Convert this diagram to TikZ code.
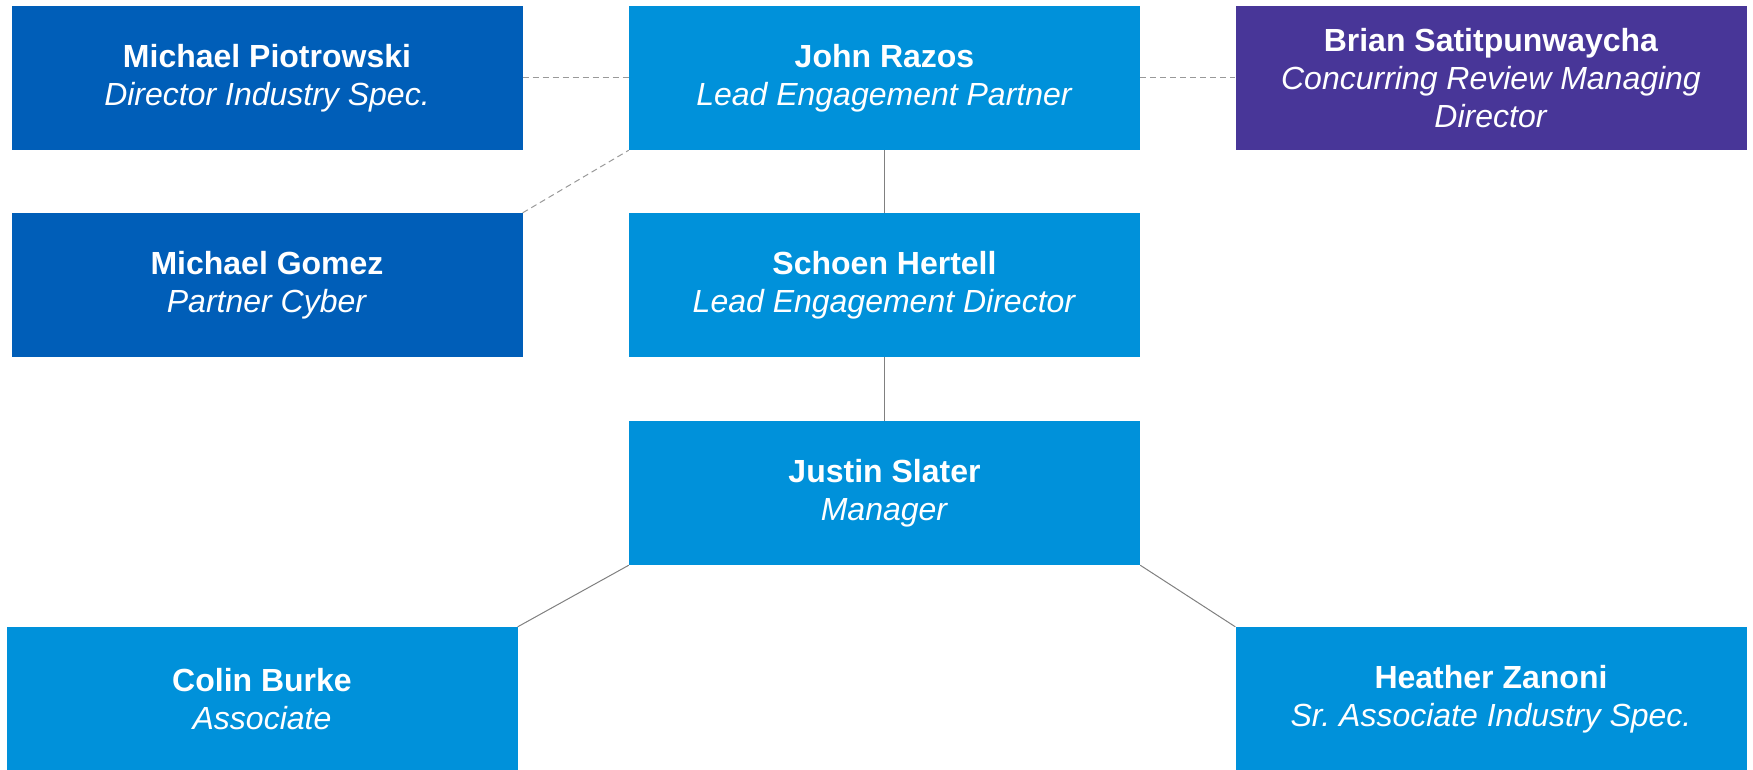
\documentclass[tikz,border=0pt]{standalone}
\usepackage{fontspec}
\setmainfont{Liberation Sans}
\definecolor{lightblue}{HTML}{0091DA}
\definecolor{darkblue}{HTML}{005EB8}
\definecolor{purple}{HTML}{483698}

\begin{document}
\begin{tikzpicture}[x=1pt,y=-1pt]
        \tikzstyle{every node}=[rectangle, fill=lightblue, text=white, minimum width=511pt, minimum height=144pt, inner sep=0pt, align=center, font=\fontsize{32}{38}\selectfont]
        \tikzstyle{orgline}=[draw=gray, line width=1pt]
        \tikzstyle{dotline}=[draw=gray!80, line width=1pt, dash pattern=on 6pt off 4pt]

        \useasboundingbox (0,0) rectangle (1753,770);

        \node[](1)at(884.5,78){\textbf{John Razos}\\\textit{Lead Engagement Partner}};
        \node[](2)at(884.5,285){\textbf{Schoen Hertell}\\\textit{Lead Engagement Director}};
        \node[](3)at(884.5,493){\textbf{Justin Slater}\\\textit{Manager}};
        \node[](4)at(262,699){\textbf{Colin Burke}\\\textit{Associate}};
        \node[](5)at(1491,699){\textbf{Heather Zanoni}\\\textit{Sr.\ Associate Industry Spec.}};
        \node[fill=darkblue](6)at(267,78){\textbf{Michael Piotrowski}\\\textit{Director Industry Spec.}};
        \node[fill=darkblue](7)at(267,285){\textbf{Michael Gomez}\\\textit{Partner Cyber}};
        \node[fill=purple](8)at(1491,78){\textbf{Brian Satitpunwaycha}\\\textit{Concurring Review Managing}\\\textit{Director}};

        \draw[orgline] (1) -- (2);
        \draw[orgline] (2) -- (3);
        \draw[orgline] (3.south west) -- (4.north east);
        \draw[orgline] (3.south east) -- (5.north west);
        \draw[dotline] (6) -- (1);
        \draw[dotline] (1) -- (8);
        \draw[dotline] (7.north east) -- (1.south west);
    \end{tikzpicture}
\end{document}
